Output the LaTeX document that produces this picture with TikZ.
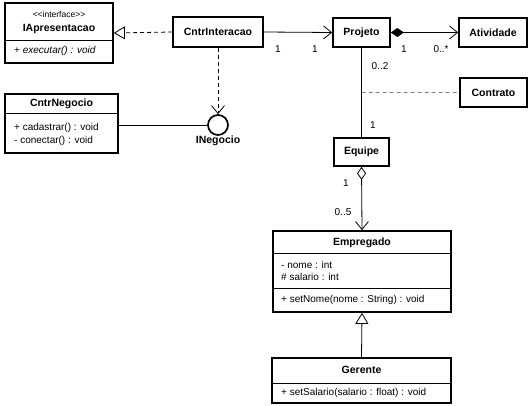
\documentclass[tikz,border=0pt]{standalone}
\usepackage{fontspec}
\setmainfont{Liberation Sans}
\usetikzlibrary{arrows.meta,calc}
\begin{document}
\begin{tikzpicture}[x=1pt,y=-1pt,
  box/.style={draw, line width=1.7pt, inner sep=0pt, fill=white},
  divider/.style={line width=0.7pt},
  lbl/.style={font=\fontsize{10}{12}\selectfont, inner sep=0pt},
  small/.style={font=\fontsize{8.5}{10}\selectfont, inner sep=0pt},
  ttl/.style={font=\fontsize{10.5}{12}\selectfont\bfseries, inner sep=0pt},
  conn/.style={line width=0.8pt},
  dsh/.style={dash pattern=on 4pt off 3pt},
  openv/.style={-{Straight Barb[length=8pt,width=13pt,line width=0.8pt]}},
  realize/.style={-{Triangle[open,length=11pt,width=13pt,line width=0.8pt]}},
  compos/.style={{Diamond[length=13pt,width=9pt]}-{Straight Barb[length=8pt,width=13pt,line width=0.8pt]}},
  aggr/.style={{Diamond[open,length=13pt,width=9pt,line width=0.8pt]}-{Straight Barb[length=8pt,width=13pt,line width=0.8pt]}},
]
\useasboundingbox[fill=white] (0,0) rectangle (530,406);

% IApresentacao
\node[box, minimum width=108pt, minimum height=60pt] (iap) at (59,33) {};
\draw[divider] (5,40) -- (113,40);
\node[small] (iapst) at (59,14) {{<}{<}interface{>}{>}};
\node[ttl] (iapt) at (59,29) {IApresentacao};
\node[lbl, anchor=west] (iapm) at (14,51) {+ \textit{executar() : void}};

% CntrInteracao
\node[box, minimum width=90pt, minimum height=30pt] (ci) at (218,32) {};
\node[ttl] (cit) at (218,32) {CntrInteracao};

% Projeto
\node[box, minimum width=57pt, minimum height=29pt] (proj) at (361.5,32.5) {};
\node[ttl] (projt) at (361.5,32.5) {Projeto};

% Atividade
\node[box, minimum width=68pt, minimum height=29pt] (ativ) at (493,32.5) {};
\node[ttl] (ativt) at (493,32.5) {Atividade};

% Contrato
\node[box, minimum width=67pt, minimum height=29pt] (contr) at (493.5,92.5) {};
\node[ttl] (contrt) at (493.5,92.5) {Contrato};

% Equipe
\node[box, minimum width=55pt, minimum height=28pt] (eq) at (361.5,152) {};
\node[ttl] (eqt) at (361.5,152) {Equipe};

% CntrNegocio
\node[box, minimum width=113pt, minimum height=59pt] (cn) at (61.5,123.5) {};
\draw[divider] (5,113) -- (118,113);
\node[ttl] (cnt) at (61.5,104) {CntrNegocio};
\node[lbl, anchor=west] (cnm1) at (14,128) {+ cadastrar() : void};
\node[lbl, anchor=west] (cnm2) at (14,141) {- conectar() : void};

% INegocio interface
\node[draw, circle, line width=1.7pt, minimum size=20pt, inner sep=0pt] (ineg) at (218,125) {};
\node[ttl] (inegt) at (218,141) {INegocio};

% Empregado
\node[box, minimum width=178pt, minimum height=81pt] (emp) at (362,271.5) {};
\draw[divider] (273,253) -- (451,253);
\draw[divider] (273,288) -- (451,288);
\node[ttl] (empt) at (362,243) {Empregado};
\node[lbl, anchor=west] (empa1) at (281,265) {- nome : int};
\node[lbl, anchor=west] (empa2) at (281,277) {\# salario : int};
\node[lbl, anchor=west] (empm) at (281,300) {+ setNome(nome : String) : void};

% Gerente
\node[box, minimum width=179pt, minimum height=45pt] (ger) at (361.5,380.5) {};
\draw[divider] (272,383) -- (451,383);
\node[ttl] (gert) at (361.5,370) {Gerente};
\node[lbl, anchor=west] (germ) at (281,393) {+ setSalario(salario : float) : void};

% connectors
\draw[conn, dsh, realize] (ci.west) -- (iap.east);
\draw[conn, openv] (ci.east) -- (proj.west);
\draw[conn, compos] (proj.east) -- (ativ.west);
\draw[conn, dsh, openv] (ci.south) -- (ineg.north);
\draw[conn] (cn.east |- ineg.west) -- (ineg.west);
\draw[conn] (proj.south) -- (eq.north);
\coordinate (assoc) at ($(proj.south)!0.5!(eq.north)$);
\draw[conn, dsh, gray] (assoc) -- (contr.west);
\draw[conn, aggr] (eq.south) -- (emp.north);
\draw[conn, realize] (ger.north) -- (emp.south);

% multiplicities
\node[lbl] (m1) at (278,49) {1};
\node[lbl] (m2) at (315,49) {1};
\node[lbl] (m3) at (404,49) {1};
\node[lbl] (m4) at (441,49) {0..*};
\node[lbl] (m5) at (380,66) {0..2};
\node[lbl] (m6) at (373,125) {1};
\node[lbl] (m7) at (346,183) {1};
\node[lbl] (m8) at (343,212) {0..5};
\end{tikzpicture}
\end{document}
